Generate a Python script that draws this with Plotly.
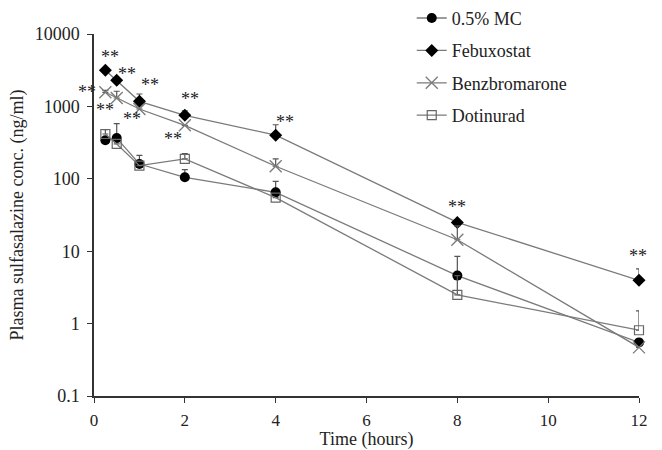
import math
import plotly.graph_objects as go

time_h = [0.25, 0.5, 1, 2, 4, 8, 12]

mc_vals = [340, 365, 160, 105, 65, 4.6, 0.55]
mc_err = [20, 212, 51, 29, 27, 3.9, 0]
febux_vals = [3150, 2290, 1175, 754, 400, 25, 3.96]
febux_err = [0, 0, 308, 116, 158, 0, 1.74]
benz_vals = [1567, 1306, 920, 548, 149, 14.4, 0.47]
benz_err = [100, 314, 0, 0, 39, 8, 0]
dot_vals = [416, 303, 152, 188, 55, 2.5, 0.81]
dot_err = [60, 0, 0, 34, 0, 2.1, 0.69]

star_x = [0.35, 0.72, 1.23, -0.16, 0.24, 0.83, 2.11, 1.75, 4.2, 8.0, 11.97]
star_y = [4810, 2775, 1955, 1580, 883, 664, 1277, 351, 610, 40.8, 8.6]

y_tickvals = [0.1, 1, 10, 100, 1000, 10000]
y_ticktext = ["0.1", "1", "10", "100", "1000", "10000"]

FONT = "Liberation Serif"
FS = 18
TXT_C = "#222"
LINE_C = "#7a7a7a"
ERR_C = "#555555"
PX_PER_HOUR = 545 / 12

def err(plus):
    return dict(type="data", symmetric=False, array=plus,
                arrayminus=[0] * len(plus), width=3, thickness=1.2, color=ERR_C)

fig = go.Figure()
series = [
    ("0.5% MC", mc_vals, mc_err, dict(symbol="circle", size=10, color="black")),
    ("Febuxostat", febux_vals, febux_err, dict(symbol="diamond", size=10, color="black")),
    ("Benzbromarone", benz_vals, benz_err,
     dict(symbol="x-thin-open", size=12, color=LINE_C, line=dict(width=1.3, color=LINE_C))),
    ("Dotinurad", dot_vals, dot_err,
     dict(symbol="square-open", size=9, color="#666666", line=dict(width=1.2, color="#666666"))),
]
for i, (name, vals, plus, mk) in enumerate(series):
    fig.add_trace(go.Scatter(
        x=time_h, y=vals, name=name, mode="lines+markers",
        line=dict(color=LINE_C, width=1.3), marker=mk,
        error_y=err(plus), legendgroup=str(i), cliponaxis=False,
    ))

for sx, sy in zip(star_x, star_y):
    # annotations outside the axis range are hidden, so anchor at 0 and shift
    xa = max(sx, 0)
    shift = (sx - xa) * PX_PER_HOUR
    fig.add_annotation(x=xa, y=math.log10(sy), xshift=shift, text="**", showarrow=False,
                       xref="x", yref="y", font=dict(family=FONT, size=FS, color=TXT_C))

axis_common = dict(showline=True, linecolor="#333", linewidth=1.5, ticks="outside",
                   ticklen=5, tickcolor="#333", tickwidth=1.2, showgrid=False, zeroline=False)

fig.update_xaxes(range=[0, 12], tickvals=[0, 2, 4, 6, 8, 10, 12],
                 tickfont=dict(family=FONT, size=17, color=TXT_C),
                 title=dict(text="Time (hours)", font=dict(family=FONT, size=FS, color=TXT_C), standoff=6),
                 ticklabelstandoff=3, **axis_common)
fig.update_yaxes(type="log", range=[-1, 4], tickvals=y_tickvals, ticktext=y_ticktext,
                 tickfont=dict(family=FONT, size=FS, color=TXT_C),
                 title=dict(text="Plasma sulfasalazine conc. (ng/ml)",
                            font=dict(family=FONT, size=FS, color=TXT_C), standoff=6),
                 ticklabelstandoff=4, **axis_common)

fig.update_layout(
    width=662, height=450,
    margin=dict(l=94, r=23, t=34, b=54, autoexpand=False),
    paper_bgcolor="white", plot_bgcolor="white",
    font=dict(family=FONT, size=FS, color=TXT_C),
    legend=dict(x=0.583, y=1.0945, xanchor="left", yanchor="top", itemwidth=30,
                tracegroupgap=6, traceorder="grouped",
                font=dict(family=FONT, size=FS, color=TXT_C), bgcolor="rgba(0,0,0,0)"),
)

fig.write_html("out.html")
